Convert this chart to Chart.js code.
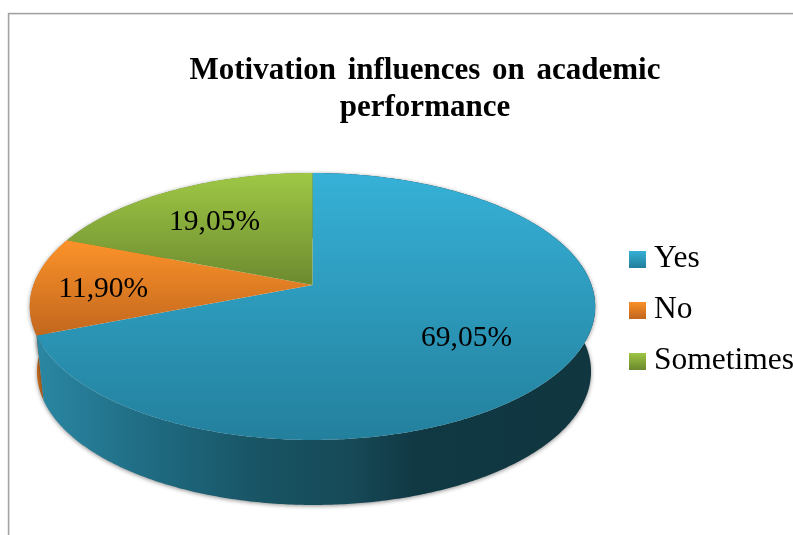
<!DOCTYPE html>
<html><head><meta charset="utf-8">
<style>html,body{margin:0;padding:0;background:#fff;overflow:hidden;width:793px;height:535px}
#w{position:relative;width:793px;height:535px;overflow:hidden}canvas{position:absolute;left:0;top:0}</style>
<script src="https://cdn.jsdelivr.net/npm/chart.js@4"></script></head>
<body><div id="w"><canvas id="c" width="804" height="535" style="width:804px;height:535px"></canvas></div>
<script>
const categories = ['Yes', 'No', 'Sometimes'];
const values = [69.05, 11.90, 19.05];
const titleLines = ['Motivation influences on academic', 'performance'];
const baseColors = ['#2e9cbd', '#e07f24', '#86a83c'];
const topStops = [['#36b1d7', '#23809d'], ['#fc9229', '#c2671e'], ['#9fc845', '#6c8a2f']];
const wallStops = [['#2a86a2', '#1f6b82', '#185464', '#174a58', '#103944', '#10363f'], ['#c46c1f', '#a85a18'], ['#6c8a2f', '#6c8a2f']];
const labelReach = [0.63, 0.75, 0.68];

const FONT = '"Liberation Serif", "Times New Roman", serif';
// perspective view of the pie disc
const view = {cx: 312.5, cy: 285, dx: 279, a: 130, c: -0.161, depth: 65, shrink: 0.98, lowerShift: 1.5};
const legendCenterY = 310;
function project(theta, r, lower) {
  const u = r * Math.cos(theta), v = r * Math.sin(theta), w = 1 + view.c * v;
  const s = lower ? view.shrink : 1;
  return {x: view.cx + (lower ? view.lowerShift : 0) + view.dx * s * u / w, y: view.cy + view.a * v / w + (lower ? view.depth : 0)};
}
function rimPoints(a0, a1, lower) {
  const n = Math.max(2, Math.ceil(Math.abs(a1 - a0) / 0.01)), pts = [];
  for (let i = 0; i <= n; i++) pts.push(project(a0 + (a1 - a0) * i / n, 1, lower));
  return pts;
}
function swatch(i) {
  const cv = document.createElement('canvas'); cv.width = 17; cv.height = 17;
  const g = cv.getContext('2d'), l = g.createLinearGradient(0, 0, 0, 17);
  l.addColorStop(0, topStops[i][0]); l.addColorStop(1, topStops[i][1]);
  g.fillStyle = l; g.fillRect(0, 0, 17, 17);
  return cv;
}
const pie3d = {
  id: 'pie3d',
  afterLayout(chart) {
    const l = chart.legend, h = l.columnSizes[0].height + 2 * l.options.labels.padding;
    l.top = legendCenterY - h / 2; l.bottom = l.top + h;
  },
  beforeDraw(chart) {
    const ctx = chart.ctx;
    ctx.save();
    ctx.strokeStyle = '#a3a3a3'; ctx.lineWidth = 1.6;
    ctx.strokeRect(8.6, 13.6, 1000, 1000);
    ctx.restore();
    ctx.wordSpacing = '4px';
  },
  beforeDatasetDraw(chart, args) {
    const ctx = chart.ctx, arcs = chart.getDatasetMeta(args.index).data;
    const ang = arcs.map(a => a.getProps(['startAngle', 'endAngle'], true));
    // side wall
    [2, 1, 0].forEach(i => {
      const up = rimPoints(ang[i].startAngle, ang[i].endAngle, false);
      const lo = rimPoints(ang[i].startAngle, ang[i].endAngle, true).reverse();
      const g = ctx.createLinearGradient(40, 0, 590, 0);
      const st = wallStops[i];
      const pos = st.length === 6 ? [0, 0.2, 0.4, 0.56, 0.68, 1] : [0, 1];
      st.forEach((col, k) => g.addColorStop(pos[k], col));
      ctx.save();
      ctx.shadowColor = 'rgba(0,0,0,0.45)'; ctx.shadowBlur = 4; ctx.shadowOffsetY = 1;
      ctx.beginPath();
      up.concat(lo).forEach((p, k) => k ? ctx.lineTo(p.x, p.y) : ctx.moveTo(p.x, p.y));
      ctx.closePath(); ctx.fillStyle = g; ctx.fill();
      ctx.restore();
    });
    // top face
    arcs.forEach((arc, i) => {
      const rim = rimPoints(ang[i].startAngle, ang[i].endAngle, false);
      const ys = rim.map(p => p.y).concat(view.cy);
      const g = ctx.createLinearGradient(0, Math.min(...ys), 0, Math.max(...ys));
      g.addColorStop(0, topStops[i][0]); g.addColorStop(1, topStops[i][1]);
      ctx.beginPath(); ctx.moveTo(view.cx, view.cy);
      rim.forEach(p => ctx.lineTo(p.x, p.y));
      ctx.closePath(); ctx.fillStyle = g; ctx.fill();
    });
    return false;
  },
  afterDatasetsDraw(chart) {
    const ctx = chart.ctx, arcs = chart.getDatasetMeta(0).data;
    ctx.save();
    ctx.font = '29.5px ' + FONT; ctx.fillStyle = '#000';
    ctx.textAlign = 'center'; ctx.textBaseline = 'middle';
    arcs.forEach((arc, i) => {
      const a = arc.getProps(['startAngle', 'endAngle'], true);
      const p = project((a.startAngle + a.endAngle) / 2, labelReach[i], false);
      ctx.fillText(values[i].toFixed(2).replace('.', ',') + '%', p.x, p.y + 4);
    });
    ctx.restore();
  }
};
new Chart(document.getElementById('c'), {
  type: 'pie',
  data: {labels: categories, datasets: [{data: values, backgroundColor: baseColors, borderWidth: 0}]},
  plugins: [pie3d],
  options: {
    responsive: false, animation: false, devicePixelRatio: 1,
    layout: {padding: {left: 46, right: 0, top: 0, bottom: 20}},
    plugins: {
      tooltip: {enabled: false},
      title: {display: true, text: titleLines, color: '#000', align: 'center',
        font: {family: FONT, size: 31, weight: 'bold', lineHeight: 1.2},
        padding: {top: 52, bottom: 10}},
      legend: {position: 'right', align: 'center',
        labels: {color: '#000', font: {family: FONT, size: 31.5}, usePointStyle: true, pointStyleWidth: 2, boxHeight: 17, padding: 19.5,
          generateLabels: () => categories.map((t, i) => ({text: t, pointStyle: swatch(i), fontColor: '#000', lineWidth: 0, hidden: false, index: i}))}}
    }
  }
});
</script></body></html>
